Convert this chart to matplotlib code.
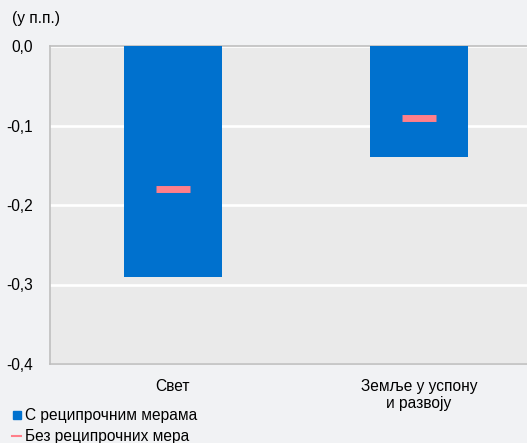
import matplotlib
matplotlib.use("Agg")
import matplotlib.pyplot as plt
from matplotlib.lines import Line2D

categories = ["Свет", "Земље у успону\nи развоју"]
with_measures = [-0.29, -0.14]
without_measures = [-0.18, -0.09]
yticks = [0.0, -0.1, -0.2, -0.3, -0.4]
ytick_labels = ["0,0", "-0,1", "-0,2", "-0,3", "-0,4"]
series_names = ["С реципрочним мерама", "Без реципрочних мера"]
unit_label = "(у п.п.)"

BLUE = "#0071CE"
PINK = "#FF7F8A"
FIG_BG = "#F1F2F4"
AX_BG = "#EAEAEA"
FS = 11.2

plt.rcParams["font.family"] = ["Liberation Sans", "DejaVu Sans"]

W, H = 527, 443
fig = plt.figure(figsize=(W / 100, H / 100), dpi=100, facecolor=FIG_BG)
left, right, top, bottom = 50, 542, 46, 364
ax = fig.add_axes([left / W, 1 - bottom / H, (right - left) / W, (bottom - top) / H])
ax.set_facecolor(AX_BG)

x = list(range(len(categories)))
ax.bar(x, with_measures, width=0.395, color=BLUE, zorder=3)
ax.plot(x, without_measures, linestyle="none", marker="_", markersize=24,
        markeredgewidth=5, color=PINK, zorder=4)

ax.set_xlim(-0.5, 1.5)
ax.set_ylim(-0.4, 0.0)
ax.set_yticks(yticks)
ax.set_yticklabels(ytick_labels, fontsize=FS)
ax.set_xticks(x)
ax.set_xticklabels(categories, fontsize=FS, linespacing=1.12)
ax.tick_params(axis="both", length=0, colors="#000000")
ax.tick_params(axis="y", pad=12)
ax.tick_params(axis="x", pad=11)
ax.yaxis.grid(True, color="white", linewidth=1.9, zorder=1)
ax.set_axisbelow(True)
for s in ax.spines.values():
    s.set_color("#BFBFBF")
    s.set_linewidth(1.2)

fig.text(12 / W, 1 - 18 / H, unit_label, fontsize=FS, va="center", ha="left")

handles = [
    Line2D([], [], linestyle="none", marker="s", markersize=6, color=BLUE),
    Line2D([], [], color=PINK, linewidth=1.5),
]
fig.legend(handles, series_names, loc="upper left", bbox_to_anchor=(12 / W, 1 - 408 / H),
           frameon=False, fontsize=FS, handlelength=0.6, handletextpad=0.25,
           labelspacing=0.4, borderaxespad=0, borderpad=0)

fig.savefig("out.png", dpi=100, facecolor=FIG_BG)
